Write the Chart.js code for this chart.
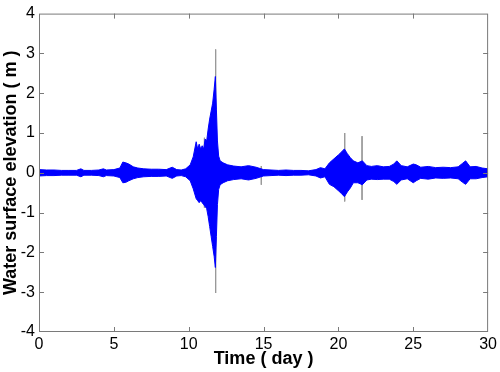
<!DOCTYPE html>
<html>
<head>
<meta charset="utf-8">
<script src="https://cdn.jsdelivr.net/npm/chart.js@4.4.1/dist/chart.umd.min.js"></script>
<style>
    html, body { margin: 0; padding: 0; background: #ffffff; }
    #chart { display: block; }
</style>
</head>
<body>
<canvas id="chart" width="500" height="372"></canvas>
<script>
// envelope of the water surface signal (day, m)
const times = [
    0, 0.5, 1, 1.5, 2, 2.5, 2.8, 3.0, 3.5, 4, 4.3, 4.5, 5, 5.4, 5.6, 5.8, 6.0, 6.3, 6.6, 7,
    7.5, 8, 8.5, 8.9, 9.2, 9.5, 9.8, 10.1, 10.3, 10.5, 10.6, 10.7, 10.8, 10.9, 11.0, 11.1, 11.2, 11.3, 11.4, 11.5,
    11.6, 11.7, 11.78, 11.85, 11.92, 12.0, 12.1, 12.3, 12.6, 13.0, 13.5, 14.0, 14.5, 15, 15.5, 16, 16.5, 17, 17.5, 18,
    18.5, 18.8, 19.1, 19.4, 19.7, 20.0, 20.2, 20.4, 20.6, 20.8, 21.0, 21.3, 21.6, 21.9, 22.2, 22.6, 23.0, 23.4, 23.7, 23.9,
    24.2, 24.6, 25.0, 25.2, 25.5, 26, 26.5, 27, 27.5, 28, 28.3, 28.5, 28.8, 29.2, 29.6, 30
];
const upperEnv = [
    0.08, 0.07, 0.07, 0.06, 0.06, 0.06, 0.10, 0.06, 0.06, 0.07, 0.10, 0.07, 0.08, 0.12, 0.27, 0.25, 0.22, 0.15, 0.12, 0.10,
    0.09, 0.09, 0.08, 0.14, 0.08, 0.07, 0.10, 0.20, 0.40, 0.78, 0.60, 0.72, 0.60, 0.68, 0.60, 0.85, 0.80, 1.10, 1.35, 1.55,
    1.75, 2.10, 2.42, 1.60, 0.80, 0.42, 0.30, 0.25, 0.20, 0.17, 0.15, 0.18, 0.14, 0.08, 0.07, 0.06, 0.07, 0.06, 0.06, 0.05,
    0.08, 0.13, 0.10, 0.25, 0.35, 0.45, 0.52, 0.60, 0.48, 0.38, 0.30, 0.25, 0.30, 0.18, 0.16, 0.18, 0.15, 0.16, 0.22, 0.30,
    0.18, 0.15, 0.22, 0.20, 0.14, 0.16, 0.13, 0.14, 0.13, 0.15, 0.24, 0.30, 0.15, 0.16, 0.12, 0.10
];
const lowerEnv = [
    -0.08, -0.07, -0.07, -0.06, -0.06, -0.06, -0.10, -0.06, -0.06, -0.07, -0.10, -0.07, -0.08, -0.12, -0.25, -0.24, -0.20, -0.15, -0.12, -0.10,
    -0.09, -0.09, -0.08, -0.14, -0.08, -0.07, -0.10, -0.20, -0.40, -0.65, -0.70, -0.75, -0.70, -0.75, -0.80, -0.85, -0.90, -1.10, -1.35, -1.60,
    -1.85, -2.10, -2.38, -1.60, -0.80, -0.42, -0.30, -0.25, -0.20, -0.17, -0.15, -0.18, -0.14, -0.08, -0.07, -0.06, -0.07, -0.06, -0.06, -0.05,
    -0.08, -0.13, -0.10, -0.29, -0.35, -0.45, -0.52, -0.60, -0.48, -0.38, -0.25, -0.25, -0.30, -0.18, -0.16, -0.17, -0.16, -0.16, -0.22, -0.29,
    -0.18, -0.15, -0.25, -0.20, -0.14, -0.16, -0.13, -0.14, -0.13, -0.15, -0.24, -0.29, -0.15, -0.15, -0.12, -0.10
];

// isolated grey spikes
const spikeTimes = [11.8, 20.42, 21.58, 14.85, 11.05];
const spikeHigh = [3.1, 1.0, 0.92, 0.17, 0.88];
const spikeLow = [-3.02, -0.72, -0.68, -0.30, -0.88];

const xTicks = [0, 5, 10, 15, 20, 25, 30];
const yTicks = [-4, -3, -2, -1, 0, 1, 2, 3, 4];

const upperPoints = times.map((t, i) => ({ x: t, y: upperEnv[i] }));
const lowerPoints = times.map((t, i) => ({ x: t, y: lowerEnv[i] }));

const spikePoints = [];
spikeTimes.forEach((t, i) => {
    spikePoints.push({ x: t, y: spikeHigh[i] });
    spikePoints.push({ x: t, y: spikeLow[i] });
    spikePoints.push({ x: t, y: null });
});

// matlab style box with inward ticks
const boxPlugin = {
    id: "boxPlugin",
    afterDatasetsDraw(chart) {
        const { ctx, chartArea: a, scales } = chart;
        const len = 5;
        ctx.save();
        ctx.strokeStyle = "#7a7a7a";
        ctx.lineWidth = 1;
        ctx.strokeRect(a.left + 0.5, a.top + 0.5, a.right - a.left - 1, a.bottom - a.top - 1);
        ctx.beginPath();
        xTicks.slice(1, -1).forEach(v => {
            const px = Math.round(scales.x.getPixelForValue(v)) + 0.5;
            ctx.moveTo(px, a.bottom);
            ctx.lineTo(px, a.bottom - len);
            ctx.moveTo(px, a.top);
            ctx.lineTo(px, a.top + len);
        });
        yTicks.slice(1, -1).forEach(v => {
            const py = Math.round(scales.y.getPixelForValue(v)) + 0.5;
            ctx.moveTo(a.left, py);
            ctx.lineTo(a.left + len, py);
            ctx.moveTo(a.right, py);
            ctx.lineTo(a.right - len, py);
        });
        ctx.stroke();
        ctx.restore();
    }
};

const fontFamily = "'Liberation Sans', Arial, Helvetica, sans-serif";

new Chart(document.getElementById("chart"), {
    type: "line",
    data: {
        datasets: [
            {
                data: upperPoints,
                borderColor: "#0000ff",
                backgroundColor: "#0000ff",
                borderWidth: 1,
                pointRadius: 0,
                fill: "+1",
                tension: 0
            },
            {
                data: lowerPoints,
                borderColor: "#0000ff",
                borderWidth: 1,
                pointRadius: 0,
                fill: false,
                tension: 0
            },
            {
                data: spikePoints,
                borderColor: "#9a9a9a",
                borderWidth: 1,
                pointRadius: 0,
                fill: false,
                spanGaps: false
            }
        ]
    },
    options: {
        responsive: false,
        animation: false,
        layout: {
            padding: { top: 8, right: 11, left: 0, bottom: 0 }
        },
        plugins: {
            legend: { display: false },
            tooltip: { enabled: false }
        },
        scales: {
            x: {
                type: "linear",
                min: 0,
                max: 30,
                afterBuildTicks: (scale) => {
                    scale.ticks = xTicks.map(v => ({ value: v }));
                },
                afterFit: (scale) => { scale.height = 40; },
                grid: { display: false, drawTicks: false },
                border: { display: false },
                ticks: {
                    padding: 3,
                    color: "#000000",
                    maxRotation: 0,
                    autoSkip: false,
                    font: { family: fontFamily, size: 16 },
                    callback: (v) => String(v)
                },
                title: {
                    display: true,
                    text: "Time ( day )",
                    color: "#000000",
                    padding: { top: 0, bottom: 2 },
                    font: { family: fontFamily, size: 18, weight: "bold" }
                }
            },
            y: {
                type: "linear",
                min: -4,
                max: 4,
                afterBuildTicks: (scale) => {
                    scale.ticks = yTicks.map(v => ({ value: v }));
                },
                afterFit: (scale) => { scale.width = 39; },
                grid: { display: false, drawTicks: false },
                border: { display: false },
                ticks: {
                    padding: 4,
                    color: "#000000",
                    autoSkip: false,
                    font: { family: fontFamily, size: 16 },
                    callback: (v) => String(v)
                },
                title: {
                    display: true,
                    text: "Water surface elevation ( m )",
                    color: "#000000",
                    padding: { top: 0, bottom: 0 },
                    font: { family: fontFamily, size: 18, weight: "bold" }
                }
            }
        }
    },
    plugins: [boxPlugin]
});
</script>
</body>
</html>
